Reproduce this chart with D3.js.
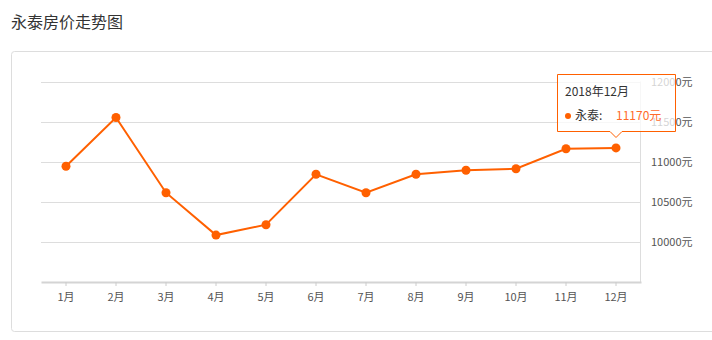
<!DOCTYPE html>
<html>
<head>
<meta charset="utf-8">
<script src="https://cdn.jsdelivr.net/npm/d3@7"></script>
<style>
  body { margin: 0; background: #fff; font-family: "Noto Sans CJK SC", "Noto Sans", sans-serif; }
  svg { display: block; }
</style>
</head>
<body>
<div id="chart"></div>
<script>
// chart data
var title = "永泰房价走势图";
var months = ["1月", "2月", "3月", "4月", "5月", "6月", "7月", "8月", "9月", "10月", "11月", "12月"];
var prices = [10940, 11550, 10610, 10080, 10210, 10840, 10610, 10840, 10890, 10910, 11160, 11170];
var yTicks = [10000, 10500, 11000, 11500, 12000];
var seriesName = "永泰";
var tipTitle = "2018年12月";
var tipIndex = 11;

var width = 712, height = 340;
var orange = "#ff6000";

var svg = d3.select("#chart").append("svg").attr("width", width).attr("height", height);

// title
svg.append("text")
    .attr("x", 11).attr("y", 28)
    .style("font-size", "16px").style("fill", "#333")
    .text(title);

// panel box (runs off the right edge)
svg.append("rect")
    .attr("x", 11.5).attr("y", 51.5)
    .attr("width", 720).attr("height", 280)
    .attr("rx", 3)
    .style("fill", "#fff").style("stroke", "#ddd");

// scales
var x = d3.scaleBand().domain(months).range([41, 641]);
var y = d3.scaleLinear().domain([9500, 12000]).range([281.5, 81.5]);

// grid lines
svg.append("g").selectAll("line")
    .data(yTicks)
    .enter().append("line")
    .attr("x1", 41).attr("x2", 641)
    .attr("y1", function(d) { return Math.round(y(d)) + 0.5; })
    .attr("y2", function(d) { return Math.round(y(d)) + 0.5; })
    .style("stroke", "#ddd");

// right axis line
svg.append("line")
    .attr("x1", 640.5).attr("x2", 640.5)
    .attr("y1", y(12000)).attr("y2", 282)
    .style("stroke", "#ddd");

// right axis labels
svg.append("g").selectAll("text")
    .data(yTicks)
    .enter().append("text")
    .attr("x", 651)
    .attr("y", function(d) { return y(d) + 4; })
    .style("font-size", "11px").style("fill", "#555")
    .text(function(d) { return d + "元"; });

// x axis
var xAxis = svg.append("g")
    .attr("transform", "translate(0,282)")
    .call(d3.axisBottom(x).tickSizeInner(4).tickSizeOuter(0).tickPadding(7));
xAxis.select(".domain").style("stroke", "#d4d4d4").style("stroke-width", 2);
xAxis.selectAll(".tick line").style("stroke", "#ccc");
xAxis.selectAll(".tick text")
    .style("font-size", "11px").style("fill", "#555")
    .style("font-family", "\"Noto Sans CJK SC\", sans-serif");

// line
var cx = function(d, i) { return x(months[i]) + x.bandwidth() / 2; };
var line = d3.line()
    .x(function(d, i) { return cx(d, i); })
    .y(function(d) { return y(d); });

svg.append("path")
    .datum(prices)
    .attr("d", line)
    .style("fill", "none")
    .style("stroke", orange)
    .style("stroke-width", 2);

svg.append("g").selectAll("circle")
    .data(prices)
    .enter().append("circle")
    .attr("cx", cx)
    .attr("cy", function(d) { return y(d); })
    .attr("r", 4.5)
    .style("fill", orange);

// tooltip
var tx = cx(prices[tipIndex], tipIndex);
var bx = 557.5, by = 74.5, bw = 118, bh = 57;
var tip = svg.append("g");
tip.append("path")
    .attr("d", "M" + bx + "," + by + "h" + bw + "v" + bh +
        "H" + (tx + 6) + "l-6,6l-6,-6H" + bx + "Z")
    .style("fill", "rgba(255,255,255,0.75)")
    .style("stroke", orange)
    .style("stroke-width", 1);
tip.append("text")
    .attr("x", 565).attr("y", 96)
    .style("font-size", "12px").style("fill", "#333")
    .text(tipTitle);
tip.append("circle")
    .attr("cx", 568).attr("cy", 116).attr("r", 3)
    .style("fill", orange);
tip.append("text")
    .attr("x", 575).attr("y", 120)
    .style("font-size", "12px").style("fill", "#333")
    .text(seriesName + ":");
tip.append("text")
    .attr("x", 616).attr("y", 120)
    .style("font-size", "12px").style("fill", "#ff6a2a")
    .text(prices[tipIndex] + "元");
</script>
</body>
</html>
